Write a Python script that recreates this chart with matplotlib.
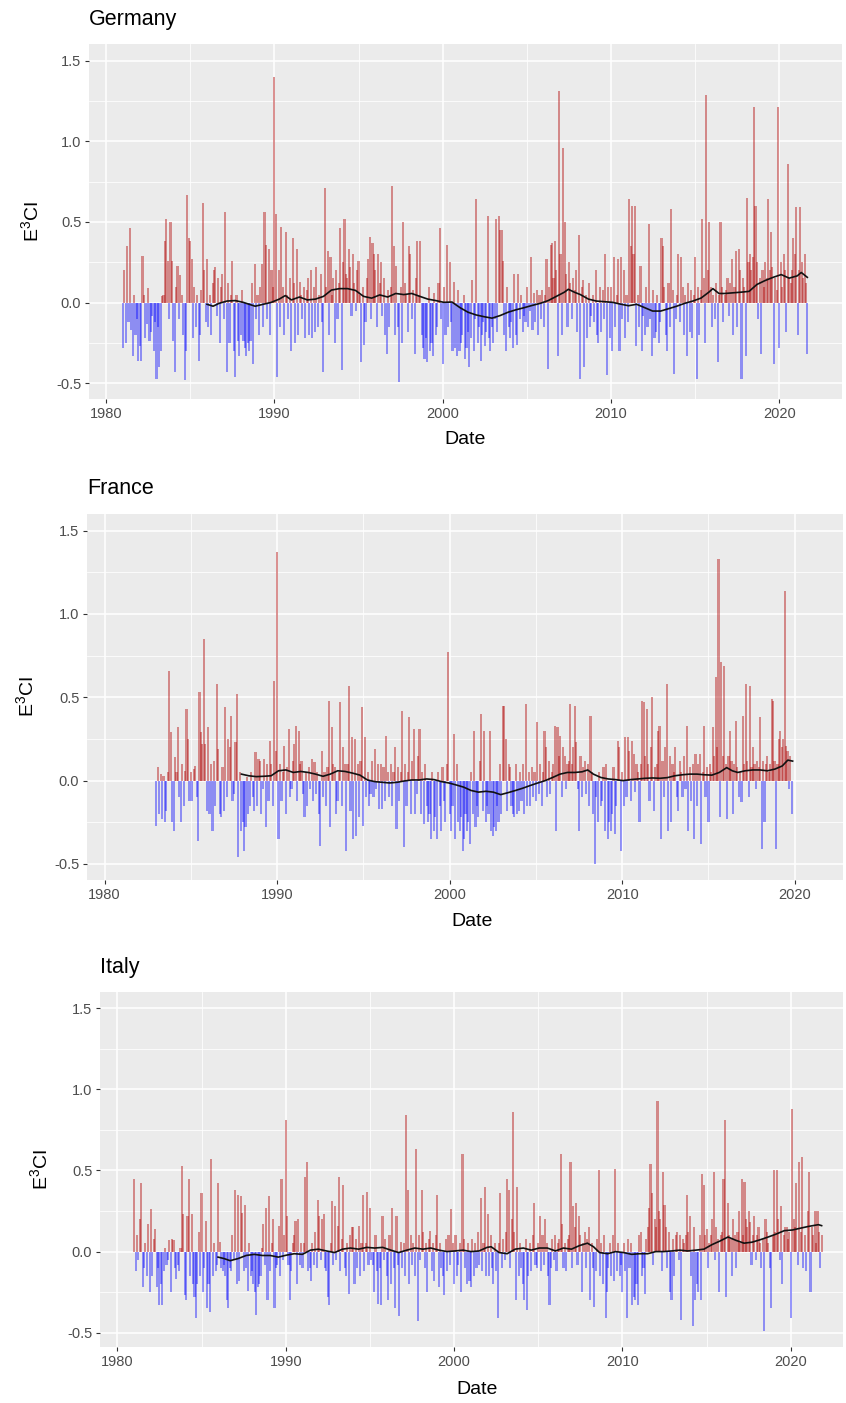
import numpy as np
import matplotlib
matplotlib.use("Agg")
import matplotlib.pyplot as plt
from matplotlib.ticker import FixedLocator

plt.rcParams["font.family"] = ["Liberation Sans", "DejaVu Sans"]
plt.rcParams["mathtext.default"] = "regular"

# ---------------------------------------------------------------------------
# Monthly E3CI values, one row per calendar year (January first)
# ---------------------------------------------------------------------------
germany_start = 1981
germany_e3ci = [
    [-0.28, 0.20, -0.25, 0.35, -0.12, 0.46, -0.17, -0.33, 0.05, -0.20, -0.10, -0.36],
    [-0.27, -0.36, 0.29, 0.05, -0.22, -0.13, 0.09, -0.24, -0.18, -0.08, -0.30, -0.12],
    [-0.47, -0.15, -0.40, -0.30, 0.04, 0.05, 0.38, 0.52, 0.26, -0.10, 0.50, 0.26],
    [-0.24, -0.43, 0.10, 0.23, -0.10, 0.17, 0.05, -0.20, -0.48, -0.30, 0.67, 0.40],
    [0.38, 0.27, -0.22, 0.10, -0.15, 0.05, -0.36, -0.20, 0.08, 0.62, 0.20, -0.12],
    [0.27, -0.15, 0.05, -0.20, 0.12, 0.20, 0.22, -0.08, 0.15, -0.25, 0.10, 0.18],
    [-0.10, 0.56, -0.43, 0.12, -0.25, 0.05, 0.26, -0.30, -0.46, 0.05, -0.24, -0.33],
    [-0.20, 0.08, -0.24, -0.28, -0.33, -0.25, -0.30, -0.24, 0.12, -0.38, 0.24, -0.10],
    [0.05, -0.20, 0.10, 0.24, -0.15, 0.56, 0.36, -0.10, 0.33, -0.20, 0.20, 0.10],
    [1.40, 0.55, -0.46, 0.20, -0.15, 0.47, 0.10, -0.20, 0.44, 0.05, -0.10, 0.15],
    [-0.30, 0.40, 0.12, -0.25, 0.33, -0.20, 0.13, 0.05, -0.10, 0.10, -0.22, 0.08],
    [0.15, -0.20, 0.20, -0.22, 0.10, -0.18, 0.22, -0.15, 0.05, 0.18, -0.12, -0.43],
    [0.71, 0.10, 0.32, -0.20, 0.28, 0.05, 0.15, -0.25, 0.20, -0.10, 0.12, 0.46],
    [-0.42, 0.25, 0.52, 0.18, 0.15, 0.33, 0.22, -0.08, 0.30, 0.12, -0.05, 0.20],
    [0.26, 0.05, -0.37, 0.10, -0.26, -0.12, 0.15, 0.27, 0.41, -0.10, 0.37, 0.30],
    [0.20, -0.15, 0.30, 0.12, 0.25, -0.08, 0.15, -0.20, -0.32, 0.08, -0.15, 0.10],
    [0.72, 0.35, -0.20, 0.23, -0.15, -0.49, 0.10, -0.25, 0.50, 0.12, 0.05, -0.18],
    [0.35, 0.30, -0.10, 0.08, -0.32, 0.15, 0.38, 0.05, 0.38, -0.20, -0.28, -0.35],
    [-0.22, -0.37, 0.10, -0.30, -0.25, -0.33, 0.06, -0.20, -0.15, 0.12, 0.46, -0.10],
    [-0.38, 0.10, -0.20, 0.36, -0.15, 0.25, -0.12, -0.30, 0.13, -0.28, -0.33, 0.08],
    [-0.30, -0.25, -0.20, 0.05, -0.35, -0.28, -0.18, -0.40, -0.22, 0.14, -0.30, -0.10],
    [0.64, -0.25, -0.15, -0.36, -0.20, -0.12, -0.27, -0.18, 0.54, -0.22, -0.30, -0.15],
    [-0.25, -0.10, 0.52, -0.18, 0.54, 0.45, 0.45, 0.26, -0.20, -0.30, 0.10, -0.15],
    [-0.22, -0.12, -0.28, 0.18, -0.20, -0.26, 0.18, -0.10, 0.05, -0.18, -0.08, -0.12],
    [0.10, -0.15, -0.05, 0.28, -0.17, 0.06, -0.12, 0.08, -0.20, 0.05, -0.10, 0.08],
    [-0.15, 0.05, 0.27, -0.41, 0.10, 0.36, 0.37, 0.15, 0.38, 0.20, -0.33, 1.31],
    [0.30, -0.20, 0.96, 0.50, 0.18, -0.15, 0.25, 0.12, -0.10, 0.15, 0.08, 0.20],
    [-0.18, 0.42, -0.47, 0.10, 0.14, -0.40, 0.05, -0.22, 0.12, -0.15, -0.08, 0.05],
    [-0.12, 0.20, -0.20, -0.25, 0.10, -0.18, 0.08, -0.10, 0.30, -0.45, 0.10, -0.22],
    [0.10, -0.30, 0.28, -0.15, 0.05, 0.27, -0.30, 0.28, -0.10, 0.20, -0.22, 0.05],
    [-0.12, 0.64, 0.35, 0.60, 0.30, 0.60, -0.27, 0.05, -0.15, 0.23, -0.30, -0.08],
    [-0.20, 0.10, -0.15, 0.49, -0.10, -0.33, 0.08, -0.22, -0.18, 0.05, -0.25, -0.12],
    [0.40, 0.35, 0.10, -0.20, -0.30, 0.12, -0.15, 0.58, 0.08, -0.44, -0.10, 0.05],
    [0.30, -0.12, 0.28, 0.10, -0.20, 0.05, -0.33, 0.12, -0.18, 0.08, -0.22, 0.05],
    [0.28, -0.47, 0.10, -0.20, 0.08, 0.52, 0.15, -0.25, 1.29, 0.20, 0.50, 0.10],
    [-0.15, 0.05, -0.10, 0.12, -0.37, 0.05, 0.50, 0.10, -0.12, 0.05, 0.08, 0.15],
    [-0.08, 0.12, 0.27, -0.20, 0.10, 0.32, -0.15, 0.33, 0.20, -0.47, 0.15, 0.10],
    [-0.33, 0.65, 0.25, 0.30, 0.20, 0.28, 1.21, 0.60, 0.25, -0.10, 0.15, -0.32],
    [0.20, 0.10, 0.25, 0.15, 0.64, 0.20, 0.44, 0.22, -0.38, 0.15, 0.08, 1.21],
    [-0.28, 0.25, 0.10, 0.30, 0.20, -0.18, 0.86, 0.15, 0.12, 0.20, 0.40, 0.30],
    [0.59, -0.20, 0.20, 0.59, 0.25, 0.15, 0.30, 0.12, -0.32],
]

france_start = 1983
france_e3ci = [
    [-0.27, 0.08, -0.20, 0.04, -0.23, 0.03, -0.25, -0.18, 0.05, 0.66, 0.29, -0.25],
    [-0.30, 0.14, 0.05, 0.32, -0.10, -0.25, 0.10, -0.15, 0.06, 0.43, 0.25, -0.12],
    [0.05, -0.12, 0.07, 0.09, -0.10, -0.36, 0.53, 0.29, 0.22, 0.85, 0.22, -0.18],
    [0.32, -0.20, 0.10, -0.30, 0.12, -0.15, 0.58, 0.19, -0.20, -0.22, 0.08, -0.18],
    [0.44, -0.10, 0.25, 0.20, 0.39, -0.12, -0.08, 0.23, 0.52, -0.46, 0.05, -0.30],
    [-0.25, -0.42, -0.28, 0.02, -0.20, -0.15, 0.05, -0.10, -0.18, 0.17, -0.15, 0.13],
    [0.12, -0.20, -0.05, 0.13, -0.28, 0.10, -0.12, 0.24, 0.10, -0.15, 0.60, 0.18],
    [1.37, -0.35, 0.10, -0.12, 0.05, 0.21, -0.20, 0.08, 0.31, -0.10, -0.05, 0.12],
    [0.22, 0.33, -0.12, 0.30, 0.10, 0.12, -0.08, -0.22, 0.05, -0.15, 0.08, -0.05],
    [0.13, -0.12, 0.11, -0.08, 0.05, -0.20, -0.39, 0.18, -0.10, 0.05, -0.15, 0.08],
    [0.48, -0.28, 0.32, 0.10, 0.08, -0.20, -0.12, 0.05, 0.47, -0.15, 0.20, 0.10],
    [-0.42, 0.10, 0.57, -0.18, 0.26, -0.35, 0.25, -0.33, 0.10, -0.22, 0.12, 0.44],
    [-0.27, 0.26, -0.10, 0.05, -0.15, -0.08, 0.12, -0.10, 0.19, -0.05, 0.10, -0.17],
    [0.10, -0.17, 0.08, -0.12, 0.27, 0.05, -0.10, 0.10, -0.15, 0.05, 0.20, -0.29],
    [0.08, -0.12, 0.05, 0.42, -0.40, 0.10, -0.15, 0.05, 0.38, -0.20, 0.12, 0.31],
    [-0.20, -0.08, 0.15, 0.31, -0.20, 0.05, -0.26, 0.10, -0.15, -0.25, -0.20, -0.35],
    [0.05, -0.30, -0.22, -0.35, 0.05, -0.15, -0.30, 0.08, -0.12, -0.25, 0.10, 0.77],
    [-0.20, -0.30, -0.15, 0.28, -0.35, 0.10, -0.25, -0.30, -0.22, -0.42, -0.35, -0.20],
    [-0.30, -0.25, -0.38, 0.05, -0.20, 0.30, -0.28, -0.15, -0.22, 0.12, 0.40, -0.18],
    [0.30, -0.25, -0.15, -0.20, 0.30, -0.30, -0.33, -0.28, -0.30, -0.15, -0.25, 0.10],
    [-0.20, 0.45, 0.45, 0.25, -0.18, 0.10, 0.08, -0.15, -0.20, -0.22, 0.10, -0.20],
    [-0.18, 0.05, -0.12, 0.10, -0.20, 0.46, -0.15, 0.05, -0.15, 0.08, -0.10, 0.05],
    [-0.12, 0.35, -0.08, 0.10, -0.15, 0.05, 0.30, 0.20, -0.10, 0.12, -0.08, 0.05],
    [0.10, 0.33, -0.30, 0.32, 0.15, 0.27, -0.10, 0.20, 0.15, -0.05, 0.10, 0.12],
    [0.46, 0.10, 0.20, 0.45, 0.23, -0.05, -0.30, 0.15, -0.10, 0.08, 0.12, -0.08],
    [0.10, -0.15, 0.39, 0.05, -0.20, -0.50, -0.10, -0.25, 0.05, -0.15, -0.12, 0.08],
    [-0.30, 0.10, -0.35, -0.25, -0.30, -0.20, 0.08, -0.32, -0.15, 0.24, 0.20, -0.42],
    [0.05, -0.15, 0.26, -0.10, 0.26, 0.18, -0.12, 0.24, 0.16, -0.07, 0.10, 0.05],
    [-0.25, 0.10, 0.48, 0.47, 0.15, 0.43, 0.10, -0.12, 0.20, 0.50, -0.18, 0.08],
    [0.10, 0.30, 0.33, -0.35, 0.12, -0.10, 0.20, 0.58, -0.30, 0.15, -0.25, 0.10],
    [0.05, 0.20, -0.10, -0.18, 0.12, 0.05, -0.10, 0.15, -0.05, 0.33, -0.30, 0.08],
    [-0.12, 0.10, -0.35, 0.16, -0.15, 0.10, 0.16, -0.38, 0.05, 0.33, -0.10, 0.08],
    [-0.25, 0.10, 0.05, 0.32, 0.15, 0.62, 0.20, 1.33, -0.22, 0.71, 0.15, 0.69],
    [0.10, -0.23, 0.15, 0.30, 0.12, -0.20, 0.10, 0.36, 0.08, -0.10, 0.05, -0.13],
    [0.39, 0.10, 0.58, 0.12, -0.10, 0.57, 0.08, 0.20, 0.10, -0.05, 0.12, 0.08],
    [0.38, -0.41, 0.12, -0.25, 0.10, 0.15, 0.05, 0.10, 0.49, 0.48, 0.12, -0.41],
    [0.10, 0.25, 0.30, 0.20, 0.25, 1.14, 0.21, 0.18, -0.05, 0.15, -0.20],
]

italy_start = 1981
italy_e3ci = [
    [0.45, -0.12, 0.10, -0.05, 0.20, 0.42, -0.22, -0.10, 0.05, -0.15, 0.17, -0.25],
    [0.26, -0.15, 0.08, 0.14, -0.22, -0.10, -0.33, -0.20, -0.33, -0.12, 0.02, -0.08],
    [-0.05, 0.07, -0.25, 0.08, 0.07, -0.10, -0.17, -0.08, -0.12, 0.02, 0.53, 0.23],
    [-0.27, -0.30, 0.22, 0.45, -0.15, 0.23, -0.20, -0.28, -0.41, -0.20, 0.12, -0.15],
    [0.36, -0.25, -0.10, 0.19, -0.35, -0.20, -0.37, 0.57, -0.15, 0.05, -0.12, -0.08],
    [0.42, 0.06, -0.10, -0.12, -0.08, -0.15, -0.30, -0.35, -0.10, -0.12, 0.10, -0.05],
    [0.38, -0.20, 0.35, -0.18, 0.34, 0.24, -0.12, 0.29, -0.10, -0.24, 0.05, -0.15],
    [-0.12, -0.20, -0.25, -0.39, -0.22, -0.20, -0.15, 0.02, 0.17, -0.08, 0.27, -0.30],
    [0.34, -0.12, 0.05, 0.20, -0.35, -0.10, -0.08, 0.16, -0.15, 0.45, -0.05, 0.10],
    [0.81, 0.22, -0.08, -0.30, -0.12, 0.05, 0.10, 0.19, -0.20, 0.20, -0.08, 0.05],
    [-0.10, 0.05, 0.46, 0.55, -0.12, -0.10, -0.18, 0.05, -0.08, 0.12, -0.10, 0.32],
    [0.22, -0.05, 0.20, 0.23, -0.10, -0.12, -0.28, -0.33, 0.05, 0.31, -0.08, 0.28],
    [-0.05, 0.16, 0.46, -0.12, 0.08, 0.41, -0.10, -0.15, 0.05, -0.26, 0.10, 0.15],
    [0.15, -0.20, 0.08, -0.10, 0.16, -0.15, 0.05, 0.35, -0.12, 0.05, 0.37, -0.08],
    [0.27, -0.05, -0.08, -0.25, 0.10, -0.12, -0.32, -0.10, -0.33, 0.22, -0.05, 0.08],
    [-0.15, -0.30, 0.10, -0.20, 0.27, -0.10, -0.35, 0.22, -0.08, -0.40, 0.06, -0.10],
    [0.05, -0.15, 0.84, 0.38, -0.20, 0.10, -0.08, 0.05, -0.15, 0.63, -0.43, 0.10],
    [-0.05, 0.38, 0.12, -0.10, 0.05, -0.25, 0.08, 0.13, -0.12, 0.05, -0.18, 0.10],
    [0.35, -0.22, 0.05, -0.10, -0.15, -0.27, 0.08, -0.12, 0.10, -0.08, 0.26, 0.05],
    [-0.20, 0.10, -0.15, -0.08, 0.05, -0.25, 0.60, 0.08, -0.10, -0.20, 0.05, -0.18],
    [-0.22, 0.08, -0.15, 0.05, -0.10, 0.12, -0.08, 0.33, -0.12, 0.05, 0.40, -0.15],
    [0.23, -0.15, 0.10, -0.10, -0.20, 0.05, -0.12, -0.41, 0.05, 0.36, -0.10, 0.08],
    [-0.05, 0.12, 0.45, 0.38, -0.10, 0.20, 0.86, 0.12, -0.30, 0.40, -0.15, 0.05],
    [-0.10, -0.20, -0.30, 0.08, -0.36, -0.15, 0.05, -0.12, 0.10, 0.30, -0.08, -0.10],
    [0.05, 0.22, -0.12, 0.10, -0.08, 0.20, 0.05, -0.15, -0.33, -0.10, 0.08, -0.05],
    [0.10, -0.12, 0.05, 0.08, 0.60, 0.17, -0.10, 0.05, -0.12, 0.08, 0.10, 0.55],
    [-0.10, 0.28, 0.15, 0.30, -0.08, 0.22, 0.10, -0.25, 0.05, 0.12, -0.10, 0.08],
    [0.15, -0.30, 0.05, -0.10, -0.34, -0.12, 0.08, 0.50, -0.15, 0.05, -0.20, 0.10],
    [-0.41, -0.25, -0.10, 0.05, -0.15, 0.10, -0.18, 0.51, -0.12, 0.05, -0.15, -0.08],
    [-0.25, 0.05, -0.12, -0.41, 0.08, -0.10, 0.05, -0.33, -0.28, -0.30, -0.20, -0.33],
    [0.10, 0.12, -0.15, -0.10, -0.26, 0.08, 0.15, 0.27, 0.54, 0.36, -0.08, 0.20],
    [0.15, 0.93, 0.25, 0.20, -0.12, 0.49, 0.29, 0.15, -0.10, 0.12, -0.25, -0.30],
    [0.08, -0.15, 0.10, 0.12, -0.05, 0.10, -0.42, 0.08, 0.05, 0.10, 0.35, 0.12],
    [0.22, -0.15, -0.46, 0.15, -0.30, -0.20, -0.25, 0.10, -0.30, 0.48, 0.41, 0.10],
    [0.14, -0.10, 0.05, 0.10, 0.20, 0.49, -0.05, 0.15, 0.08, -0.25, 0.10, 0.12],
    [0.45, 0.81, -0.28, 0.30, 0.10, 0.08, -0.15, 0.20, 0.10, -0.10, 0.12, 0.25],
    [0.05, 0.45, 0.10, 0.43, 0.20, 0.15, 0.25, 0.18, -0.08, 0.10, 0.22, -0.05],
    [0.10, 0.15, 0.05, -0.10, 0.08, -0.49, 0.20, 0.12, 0.05, -0.10, -0.35, 0.10],
    [0.50, 0.12, 0.50, 0.20, -0.05, 0.28, -0.20, 0.10, 0.15, 0.15, 0.08, 0.12],
    [-0.41, 0.88, 0.20, 0.15, 0.42, -0.08, 0.55, 0.12, 0.58, -0.10, 0.10, -0.12],
    [0.25, 0.49, -0.25, 0.15, 0.10, 0.25, 0.05, 0.25, 0.12, -0.10, 0.10],
]

# ---------------------------------------------------------------------------
# Five-year running mean (black curve): decimal year, value
# ---------------------------------------------------------------------------
germany_trend_year = [
    1986.00, 1986.36, 1986.72, 1987.19, 1987.67, 1988.15, 1988.86, 1989.34, 1989.82,
    1990.29, 1990.65, 1991.01, 1991.49, 1991.96, 1992.44, 1992.92, 1993.39, 1993.87,
    1994.35, 1994.82, 1995.30, 1995.78, 1996.26, 1996.73, 1997.21, 1997.69, 1998.16,
    1998.64, 1999.12, 1999.59, 2000.07, 2000.55, 2001.03, 2001.50, 2001.98, 2002.46,
    2002.93, 2003.41, 2003.89, 2004.36, 2004.84, 2005.32, 2005.80, 2006.27, 2006.75,
    2007.23, 2007.46, 2007.82, 2008.18, 2008.66, 2009.13, 2009.61, 2010.09, 2010.56,
    2011.04, 2011.52, 2012.00, 2012.47, 2012.95, 2013.43, 2013.90, 2014.38, 2014.86,
    2015.34, 2015.81, 2016.05, 2016.41, 2016.77, 2017.24, 2017.72, 2018.20, 2018.67,
    2019.15, 2019.63, 2020.11, 2020.58, 2021.06, 2021.30, 2021.66,
]
germany_trend = [
    -0.010, -0.022, -0.004, 0.010, 0.013, 0.002, -0.022, -0.010, 0.002,
    0.022, 0.044, 0.017, 0.035, 0.017, 0.022, 0.039, 0.078, 0.087,
    0.087, 0.076, 0.039, 0.028, 0.048, 0.035, 0.057, 0.050, 0.057,
    0.039, 0.022, 0.013, 0.002, 0.004, -0.031, -0.059, -0.076, -0.087,
    -0.096, -0.080, -0.059, -0.044, -0.031, -0.017, -0.004, 0.013, 0.039,
    0.065, 0.083, 0.065, 0.050, 0.022, 0.010, 0.006, 0.002, -0.009,
    -0.019, -0.010, -0.031, -0.052, -0.052, -0.037, -0.022, -0.004, 0.010,
    0.028, 0.065, 0.087, 0.057, 0.057, 0.061, 0.065, 0.070, 0.113,
    0.137, 0.157, 0.174, 0.152, 0.166, 0.187, 0.157,
]

france_trend_year = [
    1987.93, 1988.36, 1988.79, 1989.22, 1989.65, 1990.08, 1990.51, 1990.94, 1991.37,
    1991.80, 1992.23, 1992.66, 1993.08, 1993.51, 1993.94, 1994.37, 1994.80, 1995.23,
    1995.66, 1996.09, 1996.52, 1996.95, 1997.38, 1997.81, 1998.24, 1998.67, 1999.10,
    1999.53, 1999.95, 2000.38, 2000.81, 2001.24, 2001.67, 2002.10, 2002.53, 2002.96,
    2003.39, 2003.82, 2004.25, 2004.68, 2005.11, 2005.54, 2005.97, 2006.40, 2006.83,
    2007.26, 2007.68, 2008.00, 2008.33, 2008.76, 2009.19, 2009.62, 2010.05, 2010.48,
    2010.91, 2011.34, 2011.76, 2012.19, 2012.62, 2013.05, 2013.48, 2013.91, 2014.34,
    2014.77, 2015.20, 2015.63, 2016.06, 2016.38, 2016.70, 2017.13, 2017.56, 2017.99,
    2018.42, 2018.85, 2019.28, 2019.60, 2019.88,
]
france_trend = [
    0.039, 0.029, 0.024, 0.026, 0.029, 0.059, 0.064, 0.049, 0.055,
    0.049, 0.039, 0.026, 0.039, 0.059, 0.055, 0.045, 0.033, 0.004,
    -0.006, -0.010, -0.014, -0.010, -0.002, 0.004, 0.004, 0.010, 0.006,
    -0.006, -0.014, -0.026, -0.039, -0.059, -0.069, -0.064, -0.069, -0.084,
    -0.072, -0.059, -0.045, -0.029, -0.014, 0.000, 0.019, 0.039, 0.049,
    0.049, 0.053, 0.064, 0.039, 0.019, 0.010, 0.006, 0.000, 0.006,
    0.010, 0.014, 0.016, 0.014, 0.018, 0.029, 0.035, 0.039, 0.039,
    0.035, 0.033, 0.049, 0.078, 0.059, 0.049, 0.059, 0.064, 0.064,
    0.059, 0.069, 0.088, 0.123, 0.117,
]

italy_trend_year = [
    1985.98, 1986.34, 1986.70, 1987.17, 1987.65, 1988.13, 1988.61, 1989.08, 1989.56,
    1990.04, 1990.51, 1990.99, 1991.47, 1991.94, 1992.42, 1992.90, 1993.37, 1993.85,
    1994.33, 1994.81, 1995.28, 1995.76, 1996.24, 1996.71, 1997.19, 1997.67, 1998.15,
    1998.62, 1999.10, 1999.58, 2000.05, 2000.53, 2001.01, 2001.48, 2001.96, 2002.20,
    2002.68, 2003.15, 2003.63, 2004.11, 2004.58, 2005.06, 2005.54, 2006.02, 2006.49,
    2006.97, 2007.45, 2007.92, 2008.28, 2008.64, 2009.12, 2009.59, 2010.07, 2010.55,
    2011.02, 2011.50, 2011.98, 2012.45, 2012.93, 2013.41, 2013.88, 2014.36, 2014.84,
    2015.32, 2015.79, 2016.27, 2016.75, 2017.22, 2017.70, 2018.18, 2018.66, 2019.13,
    2019.61, 2020.09, 2020.56, 2021.04, 2021.64, 2021.83,
]
italy_trend = [
    -0.034, -0.043, -0.056, -0.043, -0.024, -0.017, -0.024, -0.024, -0.034,
    -0.022, -0.013, -0.017, 0.009, 0.015, 0.004, -0.006, 0.015, 0.022,
    0.015, 0.026, 0.022, 0.026, 0.009, -0.006, 0.009, 0.022, 0.015,
    0.022, 0.009, 0.000, 0.004, 0.009, 0.000, 0.004, 0.026, 0.030,
    -0.006, -0.013, 0.015, 0.022, 0.009, 0.022, 0.022, 0.004, 0.022,
    0.015, 0.037, 0.052, 0.030, -0.006, -0.013, 0.000, -0.006, -0.017,
    -0.013, -0.013, 0.000, 0.000, 0.004, 0.009, 0.004, 0.009, 0.015,
    0.043, 0.065, 0.090, 0.069, 0.052, 0.058, 0.073, 0.090, 0.108,
    0.129, 0.133, 0.144, 0.155, 0.166, 0.160,
]

# ---------------------------------------------------------------------------
# Figure layout (pixel boxes of the three panels on an 846 x 1403 canvas)
# ---------------------------------------------------------------------------
W, H = 846, 1403
fig = plt.figure(figsize=(W / 100, H / 100), dpi=100)

PANEL_BG = "#EBEBEB"
RED = "#B00000"
BLUE = "#0000FF"
BAR_W = 1.5 / 12.0  # bar width in years

panels = [
    dict(name="Germany", start=germany_start, rows=germany_e3ci,
         ty=germany_trend_year, tv=germany_trend,
         box=(89, 44, 842, 399), xlim=(1978.99, 2023.72), ylim=(-0.597, 1.603),
         title_xy=(89, 20), ylab_xy=(31, 222), xlab_xy=(465, 440)),
    dict(name="France", start=france_start, rows=france_e3ci,
         ty=france_trend_year, tv=france_trend,
         box=(87, 514, 843, 880), xlim=(1978.98, 2022.80), ylim=(-0.596, 1.599),
         title_xy=(87, 489), ylab_xy=(26, 697), xlab_xy=(472, 921)),
    dict(name="Italy", start=italy_start, rows=italy_e3ci,
         ty=italy_trend_year, tv=italy_trend,
         box=(100, 992, 843, 1347), xlim=(1978.97, 2023.10), ylim=(-0.588, 1.600),
         title_xy=(100, 968), ylab_xy=(40, 1170), xlab_xy=(477, 1390)),
]

for p in panels:
    x0, y0, x1, y1 = p["box"]
    ax = fig.add_axes([x0 / W, 1 - y1 / H, (x1 - x0) / W, (y1 - y0) / H])
    ax.set_facecolor(PANEL_BG)
    for s in ax.spines.values():
        s.set_visible(False)

    vals = np.concatenate([np.asarray(r, dtype=float) for r in p["rows"]])
    t = p["start"] + np.arange(vals.size) / 12.0
    pos = vals > 0

    ax.bar(t[pos], vals[pos], width=BAR_W, color=RED, alpha=0.42,
           linewidth=0, zorder=3)
    ax.bar(t[~pos], vals[~pos], width=BAR_W, color=BLUE, alpha=0.4,
           linewidth=0, zorder=3)
    ax.plot(p["ty"], p["tv"], color="#111111", lw=1.2, zorder=4)

    ax.set_xlim(*p["xlim"])
    ax.set_ylim(*p["ylim"])

    ax.xaxis.set_major_locator(FixedLocator([1980, 1990, 2000, 2010, 2020]))
    ax.xaxis.set_minor_locator(FixedLocator([1985, 1995, 2005, 2015]))
    ax.yaxis.set_major_locator(FixedLocator([-0.5, 0.0, 0.5, 1.0, 1.5]))
    ax.yaxis.set_minor_locator(FixedLocator([-0.25, 0.25, 0.75, 1.25]))
    ax.set_yticklabels(["-0.5", "0.0", "0.5", "1.0", "1.5"])

    ax.grid(which="major", color="white", lw=1.1, zorder=0)
    ax.grid(which="minor", color="white", lw=0.55, zorder=0)
    ax.set_axisbelow(True)

    ax.tick_params(which="major", length=3.0, width=0.8, color="#333333",
                   labelcolor="#4D4D4D", labelsize=10.5, pad=2.5)
    ax.tick_params(which="minor", length=0)

    tx, ty_ = p["title_xy"]
    fig.text(tx / W, 1 - ty_ / H, p["name"], fontsize=15.5, color="black",
             ha="left", va="center")
    lx, ly = p["ylab_xy"]
    fig.text(lx / W, 1 - ly / H, r"E$^{3}$CI", fontsize=14, rotation=90,
             ha="center", va="center", color="black")
    dx, dy = p["xlab_xy"]
    fig.text(dx / W, 1 - dy / H, "Date", fontsize=14, ha="center",
             va="center", color="black")

fig.savefig("out.png", dpi=100, facecolor="white")
